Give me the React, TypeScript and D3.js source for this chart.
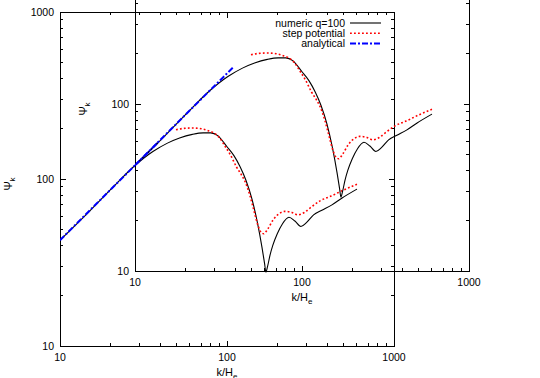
import React, { useEffect, useRef } from "react";
import * as d3 from "d3";

// numeric solution, q=100
const numericK = [10, 15, 20, 28, 36, 44, 52, 62, 72, 80, 88, 100, 110, 120, 130, 141, 152, 162, 168, 171, 175, 181, 188, 200, 215, 235, 255, 277, 300, 330, 370, 425, 489, 600];
const numericPsi = [43, 64, 86, 120, 146, 164, 176, 185, 189, 189, 182, 156, 138, 118, 98, 76, 55, 39, 31, 27.7, 30, 35, 40, 47, 54, 59, 56, 52, 55, 61, 65, 70, 77, 87];

// step potential
const stepK = [49.5, 55, 62, 70, 78, 83, 90, 97, 105, 114, 122, 128, 137, 146, 153, 160, 166, 175, 189, 205, 222, 245, 266, 290, 314, 361, 420, 500, 600];
const stepPsi = [197, 201, 202, 200, 194, 189, 177, 158, 139, 118, 106, 97, 80, 63, 53, 48, 47, 50, 57, 62, 64, 63, 61, 63, 67, 74, 79, 86, 93];

// analytical
const analyticK = [10, 20, 39];
const analyticPsi = [43, 86, 167];

const seriesNames = ["numeric q=100", "step potential", "analytical"];
const tickLabels = ["10", "100", "1000"];

const App = () => {
  const svgRef = useRef<SVGSVGElement>(null);
  const width = 540;
  const height = 378;

  useEffect(() => {
    const svg = d3.select(svgRef.current);
    svg.selectAll("*").remove();
    const font = "'Liberation Sans', Arial, Helvetica, sans-serif";

    const series = [
      { k: numericK, psi: numericPsi, color: "#000000", w: 1.1, dash: "" },
      { k: stepK, psi: stepPsi, color: "#ff0000", w: 1.6, dash: "1.8,2.2" },
      { k: analyticK, psi: analyticPsi, color: "#0000ff", w: 2, dash: "6,2,2,2" },
    ];

    // both panels are the same size, the second one shifted up and right
    const drawPlot = (left: number, top: number, size: number, id: string, showKey: boolean) => {
      const x = d3.scaleLog().domain([10, 1000]).range([left, left + size]);
      const y = d3.scaleLog().domain([10, 1000]).range([top + size, top]);
      const g = svg.append("g").attr("font-family", font).attr("font-size", 10.5);

      g.append("clipPath").attr("id", id)
        .append("rect").attr("x", left).attr("y", top).attr("width", size).attr("height", size);

      // border
      g.append("rect")
        .attr("x", left).attr("y", top).attr("width", size).attr("height", size)
        .attr("fill", "none").attr("stroke", "#000").attr("stroke-width", 1)
        .attr("shape-rendering", "crispEdges");

      // log ticks, mirrored on all four sides
      const isMajor = (v: number) => Math.abs(Math.log10(v) - Math.round(Math.log10(v))) < 1e-6;
      const ticks = x.ticks();
      ticks.forEach((t) => {
        const len = isMajor(t) ? 5.5 : 3;
        const px = x(t);
        const py = y(t);
        const tk = g.append("g").attr("stroke", "#000").attr("shape-rendering", "crispEdges");
        tk.append("line").attr("x1", px).attr("x2", px).attr("y1", top + size).attr("y2", top + size - len);
        tk.append("line").attr("x1", px).attr("x2", px).attr("y1", top).attr("y2", top + len);
        tk.append("line").attr("x1", left).attr("x2", left + len).attr("y1", py).attr("y2", py);
        tk.append("line").attr("x1", left + size).attr("x2", left + size - len).attr("y1", py).attr("y2", py);
      });

      // tick labels
      ticks.filter(isMajor).forEach((t, i) => {
        g.append("text").attr("x", x(t)).attr("y", top + size + 15)
          .attr("text-anchor", "middle").text(tickLabels[i]);
        g.append("text").attr("x", left - 6).attr("y", y(t)).attr("dy", "0.36em")
          .attr("text-anchor", "end").text(tickLabels[i]);
      });

      // axis titles
      const xl = g.append("text").attr("x", left + size / 2).attr("y", top + size + 30)
        .attr("text-anchor", "middle").attr("font-size", 11);
      xl.append("tspan").text("k/H");
      xl.append("tspan").attr("dy", 3).attr("font-size", 8).text("e");

      const yl = g.append("text")
        .attr("transform", `translate(${left - 48},${top + size / 2 + 5}) rotate(-90)`)
        .attr("text-anchor", "middle").attr("font-size", 11);
      yl.append("tspan").text("Ψ");
      yl.append("tspan").attr("dy", 3).attr("font-size", 8).text("k");

      // curves
      const line = d3.line<[number, number]>()
        .x((d) => x(d[0]))
        .y((d) => y(d[1]))
        .curve(d3.curveMonotoneX);

      series.forEach((s) => {
        const pts = s.k.map((k, i) => [k, s.psi[i]] as [number, number]);
        g.append("path")
          .attr("d", line(pts))
          .attr("fill", "none")
          .attr("stroke", s.color)
          .attr("stroke-width", s.w)
          .attr("stroke-dasharray", s.dash || null)
          .attr("clip-path", `url(#${id})`);
      });

      // key, top right
      if (showKey) {
        series.forEach((s, i) => {
          const ky = top + 11 + i * 10.3;
          g.append("text").attr("x", left + size - 49).attr("y", ky).attr("dy", "0.36em")
            .attr("text-anchor", "end").text(seriesNames[i]);
          g.append("line")
            .attr("x1", left + size - 44).attr("x2", left + size - 13)
            .attr("y1", ky).attr("y2", ky)
            .attr("stroke", s.color).attr("stroke-width", s.w)
            .attr("stroke-dasharray", s.dash || null);
        });
      }
    };

    drawPlot(60, 12, 334, "clip-main", true);
    drawPlot(135, -63, 334, "clip-inset", false);
  }, []);

  return (
    <svg
      ref={svgRef}
      width={width}
      height={height}
      style={{ position: "absolute", left: 0, top: 0, background: "#fff" }}
    ></svg>
  );
};

export default App;
